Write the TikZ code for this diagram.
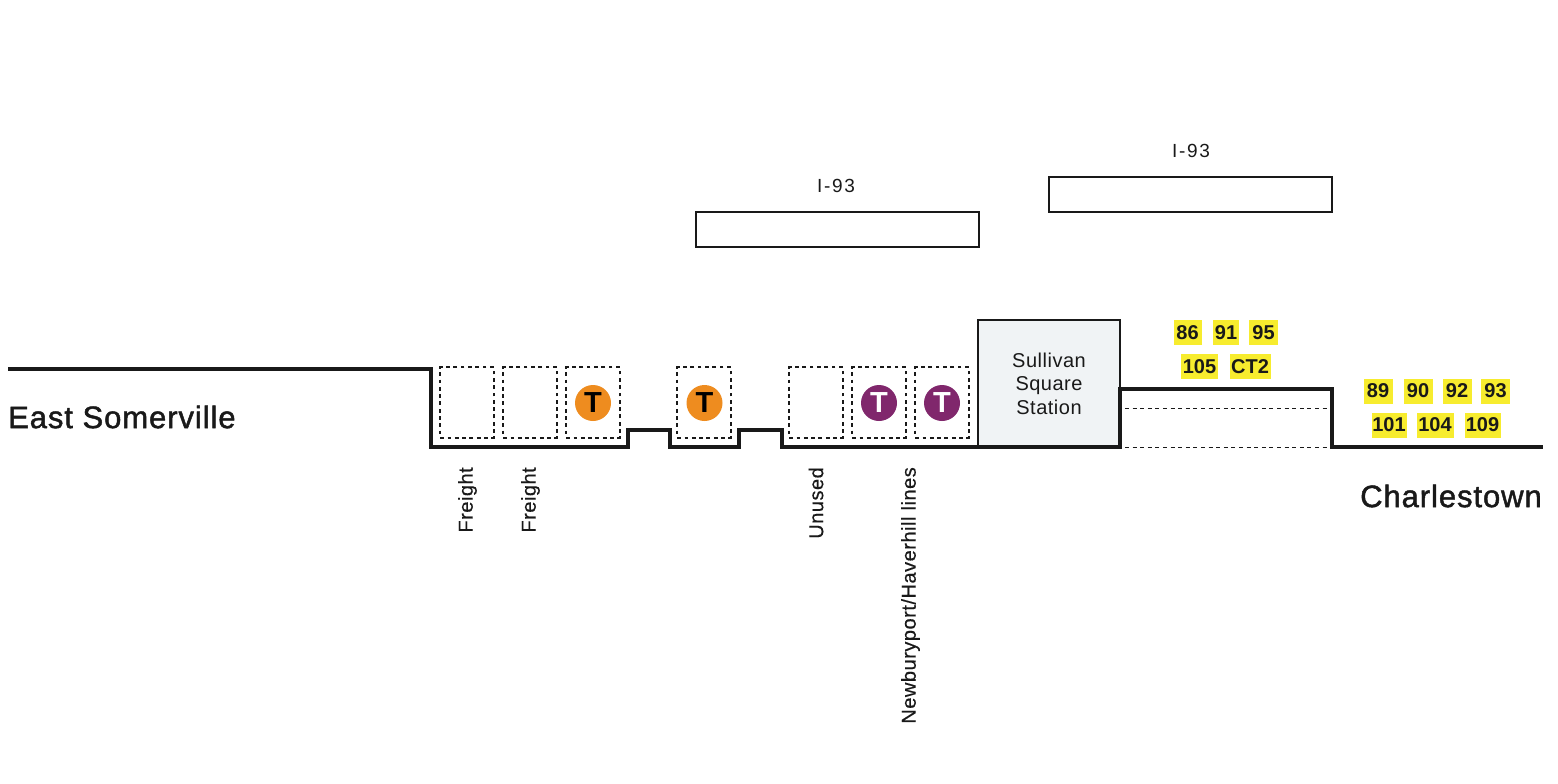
\documentclass[tikz,border=0pt]{standalone}
\usepackage{fontspec}
\setmainfont{Liberation Sans}
\newfontfamily\placefont[LetterSpace=3,FakeBold=1.5]{Liberation Sans}
\newfontfamily\sidefont[LetterSpace=2.6,FakeBold=0.4]{Liberation Sans}
\newfontfamily\stationfont[LetterSpace=2.5]{Liberation Sans}
\newfontfamily\roadfont[LetterSpace=9]{Liberation Sans}
\begin{document}
\begin{tikzpicture}[x=1pt,y=-1pt,
    trackbox/.style={draw=black!90,line width=1.9pt,dash pattern=on 3.8pt off 3.5pt,minimum width=\trackwidth pt,minimum height=\trackheight pt,inner sep=0},
    linedisc/.style={circle,minimum size=36pt,inner sep=0,font=\fontsize{29pt}{29pt}\selectfont\bfseries},
    busroute/.style={fill=busyellow,text=black!90,minimum height=25pt,inner sep=0,font=\fontsize{20pt}{20pt}\selectfont\bfseries},
    sidelabel/.style={rotate=90,anchor=east,inner sep=0,text=black!90,font=\fontsize{20pt}{20pt}\sidefont},
    placelabel/.style={inner sep=0,text=black!90,font=\fontsize{31pt}{31pt}\placefont},
    highway/.style={draw=black!90,line width=1.7pt,minimum width=282.5pt,minimum height=35pt,inner sep=0},
    roadlabel/.style={inner sep=0,text=black!90,font=\fontsize{19pt}{19pt}\roadfont}]
    \definecolor{busyellow}{HTML}{F7EC2E}
    \definecolor{orangeline}{HTML}{EE8C1F}
    \definecolor{purpleline}{HTML}{80276C}
    \definecolor{stationgrey}{HTML}{F0F3F5}
    \pgfmathsetmacro{\trackwidth}{53.5}
    \pgfmathsetmacro{\trackheight}{70.5}
    \pgfmathsetmacro{\tracky}{402.5}
    \pgfmathsetmacro{\discy}{403}
    \pgfmathsetmacro{\groundy}{447}
    \useasboundingbox (0,0) rectangle (1558,784);
    % viaduct deck
    \node[draw=black!90,fill=stationgrey,line width=1.7pt,minimum width=141.5pt,minimum height=127pt,inner sep=0,align=center,text=black!90,font=\fontsize{20pt}{23.5pt}\stationfont] (station) at (1049,383.5) {Sullivan\\Square\\Station};
    \draw[black!90,line width=1pt,dash pattern=on 4pt off 3.6pt] (1125,408) -- (1328,408);
    \draw[black!90,line width=1pt,dash pattern=on 4pt off 3.6pt] (1125,\groundy) -- (1328,\groundy);
    \draw[black!90,line width=4pt,miter limit=10] (8,369) -- (431,369) -- (431,\groundy) -- (627.5,\groundy) -- (627.5,430) -- (670,430) -- (670,\groundy) -- (739,\groundy) -- (739,430) -- (782,430) -- (782,\groundy) -- (1120,\groundy) -- (1120,388.5) -- (1332,388.5) -- (1332,\groundy) -- (1543,\groundy);
    \node[trackbox] (track1) at (467,\tracky) {};
    \node[trackbox] (track2) at (530,\tracky) {};
    \node[trackbox] (track3) at (593,\tracky) {};
    \node[trackbox] (track4) at (704,\tracky) {};
    \node[trackbox] (track5) at (816,\tracky) {};
    \node[trackbox] (track6) at (879,\tracky) {};
    \node[trackbox] (track7) at (942,\tracky) {};
    \node[linedisc,fill=orangeline,text=black] (orange1) at (593,\discy) {T};
    \node[linedisc,fill=orangeline,text=black] (orange2) at (704.5,\discy) {T};
    \node[linedisc,fill=purpleline,text=white] (purple1) at (879,\discy) {T};
    \node[linedisc,fill=purpleline,text=white] (purple2) at (942,\discy) {T};
    \node[sidelabel] (freight1) at (467.5,467) {Freight};
    \node[sidelabel] (freight2) at (530.5,467) {Freight};
    \node[sidelabel] (unused) at (816,467) {Unused};
    \node[sidelabel] (newburyport) at (910.5,467) {Newburyport/Haverhill lines};
    \node[highway] (road1) at (837.5,229.5) {};
    \node[highway] (road2) at (1190.5,194.5) {};
    \node[roadlabel] (roadlabel1) at (836,186) {I-93};
    \node[roadlabel] (roadlabel2) at (1191,151) {I-93};
    \node[placelabel,anchor=west] (somerville) at (8,417) {East Somerville};
    \node[placelabel,anchor=east] (charlestown) at (1542,496) {Charlestown};
    % bus routes
    \node[busroute,minimum width=28pt] (bus86) at (1187.5,332.5) {86};
    \node[busroute,minimum width=26pt] (bus91) at (1226,332.5) {91};
    \node[busroute,minimum width=29pt] (bus95) at (1263.5,332.5) {95};
    \node[busroute,minimum width=37pt] (bus105) at (1199.5,366.5) {105};
    \node[busroute,minimum width=41pt] (busct2) at (1250,366.5) {CT2};
    \node[busroute,minimum width=29pt] (bus89) at (1378,391) {89};
    \node[busroute,minimum width=29pt] (bus90) at (1418,391) {90};
    \node[busroute,minimum width=29pt] (bus92) at (1457,391) {92};
    \node[busroute,minimum width=29pt] (bus93) at (1495.5,391) {93};
    \node[busroute,minimum width=35pt] (bus101) at (1389,425) {101};
    \node[busroute,minimum width=37pt] (bus104) at (1435,425) {104};
    \node[busroute,minimum width=36pt] (bus109) at (1482.5,425) {109};
\end{tikzpicture}
\end{document}
